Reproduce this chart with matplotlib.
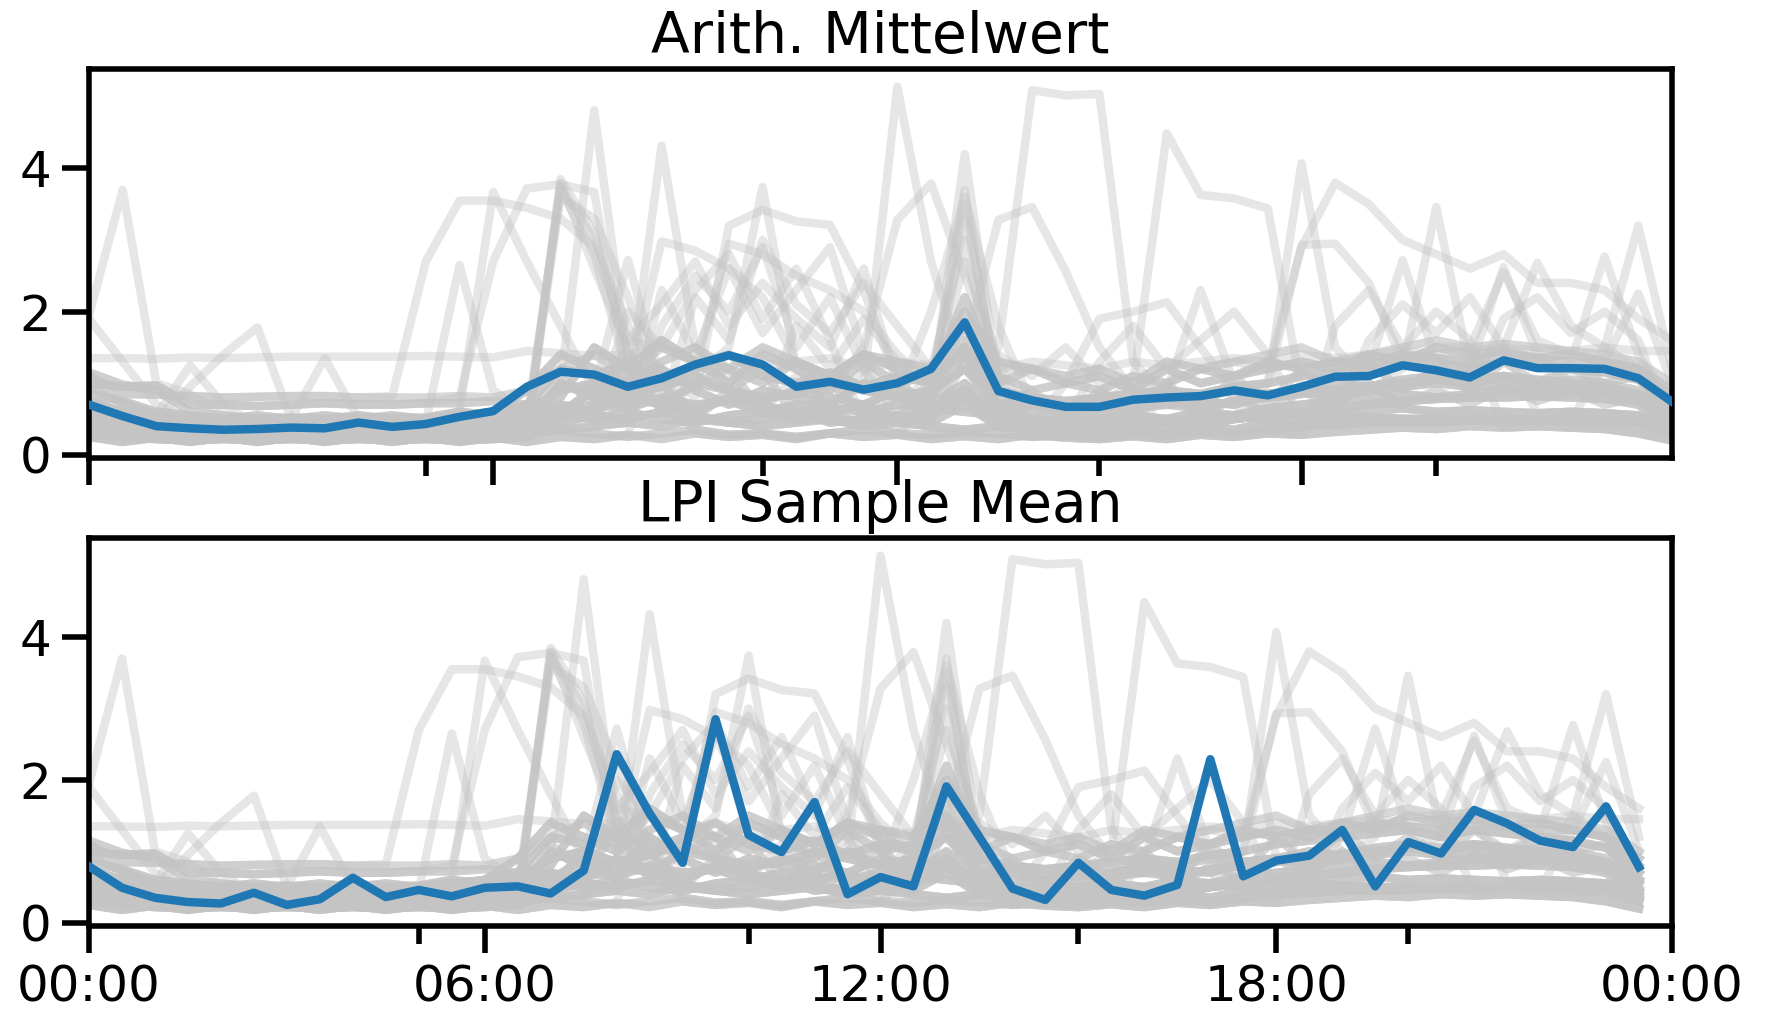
import matplotlib
matplotlib.use("Agg")
import matplotlib.pyplot as plt

# ---------------- data ----------------
hours = [i * 0.5 for i in range(48)]          # 00:00 ... 23:30, half-hourly

titles = ["Arith. Mittelwert", "LPI Sample Mean"]
xtick_labels = ["00:00", "06:00", "12:00", "18:00", "00:00"]

mean_arith = [0.70, 0.54, 0.40, 0.37, 0.35, 0.36, 0.38, 0.37,
              0.45, 0.39, 0.43, 0.53, 0.61, 0.95, 1.16, 1.12,
              0.95, 1.07, 1.26, 1.39, 1.26, 0.95, 1.02, 0.91,
              1.00, 1.20, 1.85, 0.89, 0.76, 0.67, 0.67, 0.77,
              0.80, 0.82, 0.90, 0.83, 0.95, 1.09, 1.10, 1.25,
              1.18, 1.08, 1.32, 1.21, 1.21, 1.20, 1.07, 0.74]

mean_lpi = [0.79, 0.49, 0.35, 0.29, 0.27, 0.42, 0.25, 0.33,
            0.63, 0.36, 0.46, 0.37, 0.49, 0.51, 0.41, 0.73,
            2.36, 1.53, 0.84, 2.85, 1.23, 0.99, 1.69, 0.40,
            0.64, 0.51, 1.91, 1.20, 0.48, 0.32, 0.84, 0.46,
            0.38, 0.53, 2.29, 0.65, 0.87, 0.94, 1.30, 0.51,
            1.13, 0.97, 1.58, 1.39, 1.15, 1.06, 1.63, 0.78]

# individual daily profiles (grey): a set of typical "band" days ...
band = {
    "b01": [0.25, 0.18, 0.24, 0.18, 0.24, 0.18, 0.24, 0.18,
            0.24, 0.18, 0.24, 0.18, 0.24, 0.18, 0.25, 0.22,
            0.28, 0.22, 0.30, 0.25, 0.28, 0.22, 0.30, 0.25,
            0.28, 0.22, 0.26, 0.22, 0.28, 0.24, 0.22, 0.26,
            0.22, 0.28, 0.25, 0.30, 0.28, 0.32, 0.35, 0.38,
            0.36, 0.40, 0.38, 0.40, 0.38, 0.36, 0.30, 0.20],
    "b02": [0.35, 0.30, 0.27, 0.25, 0.26, 0.25, 0.27, 0.25,
            0.26, 0.25, 0.27, 0.26, 0.28, 0.30, 0.35, 0.40,
            0.45, 0.40, 0.50, 0.45, 0.40, 0.45, 0.50, 0.40,
            0.45, 0.40, 0.35, 0.40, 0.35, 0.30, 0.35, 0.30,
            0.35, 0.40, 0.35, 0.45, 0.40, 0.45, 0.48, 0.50,
            0.48, 0.50, 0.50, 0.48, 0.50, 0.48, 0.45, 0.30],
    "b03": [0.50, 0.42, 0.36, 0.32, 0.30, 0.32, 0.30, 0.33,
            0.30, 0.32, 0.30, 0.35, 0.40, 0.50, 0.60, 0.70,
            0.65, 0.80, 0.70, 0.75, 0.60, 0.70, 0.65, 0.60,
            0.70, 0.65, 0.60, 0.55, 0.50, 0.45, 0.50, 0.55,
            0.50, 0.60, 0.55, 0.65, 0.70, 0.75, 0.80, 0.85,
            0.80, 0.85, 0.90, 0.85, 0.90, 0.85, 0.75, 0.45],
    "b04": [0.65, 0.52, 0.42, 0.40, 0.38, 0.40, 0.37, 0.40,
            0.38, 0.40, 0.42, 0.45, 0.50, 0.60, 0.90, 1.00,
            0.85, 0.95, 1.10, 0.90, 0.80, 0.85, 1.00, 0.90,
            0.80, 0.90, 1.20, 0.70, 0.60, 0.55, 0.60, 0.65,
            0.70, 0.65, 0.75, 0.80, 0.85, 0.90, 0.95, 1.00,
            1.05, 1.00, 1.10, 1.05, 1.00, 0.95, 0.85, 0.60],
    "b05": [0.95, 0.72, 0.55, 0.50, 0.48, 0.45, 0.47, 0.45,
            0.48, 0.45, 0.50, 0.55, 0.60, 0.70, 1.20, 1.10,
            1.30, 1.00, 1.20, 1.40, 1.10, 1.00, 1.15, 0.95,
            1.10, 1.00, 1.50, 0.90, 0.80, 0.75, 0.80, 0.85,
            0.90, 0.85, 0.95, 1.00, 1.10, 1.15, 1.20, 1.25,
            1.30, 1.20, 1.30, 1.25, 1.20, 1.15, 1.05, 0.70],
    "b06": [1.15, 0.98, 0.90, 0.60, 0.55, 0.50, 0.52, 0.50,
            0.55, 0.50, 0.52, 0.60, 0.55, 0.70, 0.80, 1.50,
            1.20, 1.60, 1.30, 1.00, 1.40, 1.20, 0.90, 1.30,
            1.00, 1.10, 1.80, 1.00, 1.20, 1.00, 1.10, 0.90,
            1.20, 1.00, 1.10, 1.20, 1.30, 1.20, 1.40, 1.30,
            1.50, 1.40, 1.45, 1.35, 1.40, 1.30, 1.20, 0.90],
    "b07": [0.75, 0.60, 0.50, 0.45, 0.42, 0.40, 0.42, 0.40,
            0.43, 0.40, 0.42, 0.45, 0.50, 0.55, 0.70, 0.60,
            0.90, 0.70, 0.60, 0.80, 0.70, 0.55, 0.60, 0.70,
            0.50, 0.60, 0.90, 0.50, 0.45, 0.40, 0.45, 0.50,
            0.45, 0.50, 0.55, 0.50, 0.60, 0.55, 0.60, 0.65,
            0.60, 0.62, 0.60, 0.58, 0.60, 0.58, 0.55, 0.40],
    "b08": [0.40, 0.32, 0.28, 0.30, 0.28, 0.30, 0.28, 0.30,
            0.28, 0.30, 0.28, 0.30, 0.32, 0.30, 0.35, 0.30,
            0.25, 0.30, 0.35, 0.28, 0.30, 0.25, 0.30, 0.35,
            0.30, 0.28, 0.32, 0.30, 0.25, 0.28, 0.25, 0.30,
            0.28, 0.32, 0.30, 0.35, 0.40, 0.42, 0.45, 0.45,
            0.46, 0.48, 0.47, 0.48, 0.47, 0.46, 0.42, 0.30],
    "b09": [0.55, 0.45, 0.40, 0.38, 0.35, 0.38, 0.36, 0.38,
            0.36, 0.38, 0.35, 0.38, 0.40, 0.45, 1.00, 0.80,
            0.70, 1.20, 0.90, 0.70, 0.90, 0.80, 0.70, 1.00,
            0.80, 0.70, 1.00, 0.60, 0.70, 0.60, 0.65, 0.70,
            0.80, 0.75, 0.70, 0.85, 0.90, 0.80, 0.90, 0.95,
            1.00, 0.95, 1.00, 0.95, 0.90, 0.85, 0.80, 0.55],
    "b10": [0.85, 0.75, 0.60, 0.55, 0.50, 0.55, 0.50, 0.55,
            0.50, 0.55, 0.50, 0.50, 0.60, 0.90, 1.40, 1.20,
            1.00, 1.30, 1.50, 1.20, 1.00, 1.30, 1.10, 1.40,
            1.20, 1.00, 2.20, 1.10, 0.90, 1.00, 0.90, 1.10,
            1.00, 1.20, 1.10, 1.30, 1.20, 1.30, 1.25, 1.40,
            1.35, 1.30, 1.40, 1.35, 1.30, 1.30, 1.20, 0.80],
    "b11": [1.10, 0.85, 0.84, 0.82, 0.80, 0.81, 0.82, 0.82,
            0.80, 0.80, 0.80, 0.82, 0.80, 0.90, 1.20, 1.40,
            1.10, 1.50, 1.30, 1.20, 1.50, 1.30, 1.10, 1.40,
            1.30, 1.20, 2.00, 1.30, 1.20, 1.10, 1.20, 1.00,
            1.30, 1.20, 1.30, 1.40, 1.50, 1.30, 1.40, 1.50,
            1.60, 1.50, 1.55, 1.50, 1.45, 1.40, 1.30, 1.00],
    "b12": [1.00, 0.95, 0.97, 0.70, 0.70, 0.68, 0.70, 0.72,
            0.70, 0.70, 0.72, 0.72, 0.75, 0.70, 0.60, 0.90,
            0.80, 0.70, 1.00, 0.90, 0.75, 0.90, 0.80, 0.70,
            0.90, 0.80, 1.40, 0.70, 0.80, 0.65, 0.70, 0.75,
            0.70, 0.80, 0.90, 0.85, 0.90, 1.00, 0.95, 1.05,
            1.10, 1.05, 1.10, 1.00, 1.05, 1.00, 0.90, 0.60],
    "b13": [0.30, 0.25, 0.22, 0.20, 0.22, 0.20, 0.22, 0.20,
            0.22, 0.20, 0.22, 0.20, 0.22, 0.25, 0.45, 0.55,
            0.50, 0.60, 0.55, 0.45, 0.50, 0.60, 0.45, 0.50,
            0.55, 0.45, 0.70, 0.40, 0.35, 0.40, 0.35, 0.40,
            0.45, 0.40, 0.50, 0.55, 0.60, 0.65, 0.70, 0.75,
            0.78, 0.80, 0.80, 0.82, 0.80, 0.78, 0.70, 0.35],
    "b14": [0.45, 0.38, 0.33, 0.30, 0.32, 0.30, 0.32, 0.30,
            0.32, 0.30, 0.32, 0.34, 0.36, 0.40, 0.55, 0.50,
            0.60, 0.50, 0.45, 0.55, 0.60, 0.50, 0.55, 0.45,
            0.50, 0.55, 0.80, 0.45, 0.40, 0.45, 0.50, 0.45,
            0.50, 0.45, 0.50, 0.55, 0.50, 0.55, 0.52, 0.50,
            0.50, 0.48, 0.50, 0.48, 0.50, 0.48, 0.45, 0.35],
    "b15": [1.35, 1.35, 1.34, 1.36, 1.35, 1.36, 1.37, 1.37,
            1.37, 1.37, 1.38, 1.37, 1.36, 1.45, 1.42, 1.38,
            1.40, 1.50, 1.30, 1.40, 1.25, 1.30, 1.35, 1.20,
            1.30, 1.25, 1.50, 1.20, 1.30, 1.25, 1.20, 1.30,
            1.25, 1.30, 1.35, 1.30, 1.40, 1.35, 1.40, 1.45,
            1.40, 1.45, 1.50, 1.45, 1.45, 1.50, 1.45, 1.45],
    "b16": [0.60, 0.50, 0.45, 0.42, 0.40, 0.42, 0.40, 0.42,
            0.40, 0.42, 0.40, 0.45, 0.50, 0.55, 1.10, 0.70,
            1.30, 0.60, 1.00, 1.20, 0.60, 1.10, 0.70, 1.20,
            0.60, 1.00, 1.60, 0.60, 0.90, 0.50, 0.90, 0.60,
            1.00, 0.60, 1.10, 0.70, 1.20, 0.80, 1.30, 0.90,
            1.20, 0.90, 1.30, 1.00, 1.20, 1.00, 1.10, 0.50],
    "b17": [0.40, 0.35, 0.30, 0.28, 0.30, 0.28, 0.30, 0.28,
            0.30, 0.28, 0.30, 0.32, 0.35, 0.40, 0.50, 1.00,
            0.60, 1.10, 0.50, 0.90, 1.20, 0.50, 1.00, 0.60,
            1.10, 0.50, 1.30, 0.50, 0.80, 0.40, 0.70, 0.50,
            0.90, 0.50, 0.80, 0.60, 0.90, 0.70, 1.00, 0.70,
            0.90, 0.70, 0.95, 0.75, 0.90, 0.70, 0.80, 0.40],
}

# ... and days with peaks: (typical day they resemble, {half-hour index: value})
peak_days = [
    ("b06", {0: 1.95, 1: 3.70, 2: 1.00, 3: 0.85}),
    ("b05", {0: 1.90, 1: 1.30, 2: 0.70}),
    ("b07", {2: 0.55, 3: 1.25, 4: 0.70}),
    ("b03", {2: 0.50, 3: 0.95, 4: 1.40, 5: 1.78, 6: 0.50}),
    ("b02", {6: 0.50, 7: 1.35, 8: 0.50}),
    ("b11", {9: 0.82, 10: 2.70, 11: 3.55, 12: 3.55, 13: 3.45, 14: 3.30, 15: 2.90, 16: 1.60}),
    ("b12", {11: 0.80, 12: 2.70, 13: 3.72, 14: 3.78, 15: 3.67, 16: 1.00}),
    ("b04", {10: 0.45, 11: 2.65, 12: 0.90}),
    ("b05", {11: 0.60, 12: 3.67, 13: 2.70, 14: 1.80, 15: 0.90}),
    ("b09", {14: 1.00, 15: 4.81, 16: 1.30}),
    ("b01", {13: 0.30, 14: 3.85, 15: 3.10, 16: 1.40, 17: 0.90}),
    ("b02", {13: 0.40, 14: 3.75, 15: 3.00, 16: 1.80, 17: 1.00}),
    ("b03", {13: 0.50, 14: 3.70, 15: 2.80, 16: 1.10}),
    ("b08", {13: 0.35, 14: 3.60, 15: 3.30, 16: 2.20, 17: 1.00}),
    ("b13", {13: 0.30, 14: 3.80, 15: 2.60, 16: 1.50}),
    ("b14", {15: 0.90, 16: 2.72, 17: 1.00}),
    ("b07", {16: 0.80, 17: 4.32, 18: 1.50, 19: 1.00}),
    ("b09", {18: 0.80, 19: 3.20, 20: 3.42, 21: 3.26, 22: 3.21, 23: 2.30, 24: 1.00}),
    ("b04", {19: 1.50, 20: 3.74, 21: 1.20}),
    ("b10", {16: 1.00, 17: 2.98, 18: 2.85, 19: 2.60, 20: 2.20, 21: 1.30}),
    ("b05", {18: 1.20, 19: 2.95, 20: 2.80, 21: 2.50, 22: 2.30, 23: 2.00, 24: 1.40}),
    ("b03", {23: 1.00, 24: 5.14, 25: 2.70, 26: 1.20, 27: 0.80}),
    ("b06", {23: 1.50, 24: 3.28, 25: 3.79, 26: 2.50, 27: 1.20}),
    ("b01", {25: 0.80, 26: 4.20, 27: 1.00}),
    ("b02", {25: 0.90, 26: 3.70, 27: 0.80}),
    ("b07", {25: 1.00, 26: 3.50, 27: 0.90}),
    ("b08", {25: 0.70, 26: 3.30, 27: 1.10}),
    ("b13", {25: 1.20, 26: 3.00, 27: 0.70}),
    ("b14", {25: 0.90, 26: 2.70, 27: 1.30}),
    ("b09", {25: 2.00, 26: 3.60, 27: 1.80}),
    ("b04", {26: 0.80, 27: 1.50, 28: 5.09, 29: 5.02, 30: 5.04, 31: 1.30, 32: 0.80}),
    ("b10", {26: 1.50, 27: 3.28, 28: 3.46, 29: 2.56, 30: 1.50, 31: 0.90}),
    ("b12", {31: 1.00, 32: 4.49, 33: 3.63, 34: 3.58, 35: 3.44, 36: 0.90}),
    ("b07", {35: 1.00, 36: 4.07, 37: 1.50, 38: 1.00}),
    ("b11", {35: 1.20, 36: 2.90, 37: 3.80, 38: 3.50, 39: 3.00, 40: 2.80, 41: 2.60,
             42: 2.80, 43: 2.40, 44: 2.40, 45: 2.30, 46: 1.90, 47: 1.60}),
    ("b05", {35: 1.00, 36: 2.93, 37: 2.95, 38: 2.40, 39: 1.30}),
    ("b09", {39: 1.20, 40: 3.46, 41: 1.20}),
    ("b03", {38: 1.20, 39: 2.72, 40: 1.30}),
    ("b04", {41: 1.20, 42: 2.62, 43: 1.40}),
    ("b06", {41: 1.50, 42: 2.55, 43: 1.60}),
    ("b10", {42: 1.50, 43: 2.68, 44: 1.80, 45: 1.50}),
    ("b12", {44: 1.30, 45: 2.77, 46: 1.40}),
    ("b13", {45: 1.50, 46: 3.20, 47: 1.20}),
    ("b02", {32: 0.90, 33: 2.30, 34: 1.00}),
    ("b08", {45: 1.30, 46: 2.25, 47: 1.00}),
    ("b14", {29: 1.00, 30: 1.90, 31: 2.00, 32: 2.13, 33: 1.50, 34: 0.90}),
    ("b01", {17: 1.80, 18: 2.50, 19: 2.00, 20: 2.90, 21: 1.50, 22: 2.20, 23: 1.20}),
    ("b02", {17: 2.30, 18: 1.40, 19: 2.60, 20: 1.70, 21: 2.30, 22: 2.90, 23: 1.40}),
    ("b08", {16: 1.60, 17: 2.10, 18: 2.70, 19: 1.80, 20: 2.40, 21: 1.90, 22: 1.50, 23: 2.60, 24: 1.00}),
    ("b13", {18: 2.20, 19: 1.60, 20: 3.00, 21: 2.10, 22: 1.70, 23: 2.40, 24: 1.80, 25: 1.20}),
    ("b14", {16: 2.00, 17: 1.50, 18: 2.30, 19: 2.80, 20: 1.90, 21: 2.60, 22: 1.60}),
    ("b01", {37: 1.80, 38: 2.30, 39: 1.50, 40: 2.00, 41: 1.60}),
    ("b07", {38: 1.60, 39: 2.10, 40: 1.70, 41: 2.20, 42: 1.50}),
    ("b13", {42: 1.90, 43: 2.20, 44: 1.70, 45: 2.00, 46: 1.60}),
    ("b14", {30: 1.30, 31: 1.80, 32: 1.20, 33: 1.60, 34: 2.00, 35: 1.40}),
    ("b16", {21: 1.80, 22: 1.20, 23: 1.90, 24: 1.30}),
    ("b17", {27: 1.40, 28: 1.10, 29: 1.50, 30: 1.00}),
]

# ---------------- build series ----------------
grey_days = [list(v) for v in band.values()]
for base, peaks in peak_days:
    s = list(band[base])
    for k, v in peaks.items():
        s[k] = v
    grey_days.append(s)

# ---------------- figure ----------------
plt.rcParams["font.family"] = ["DejaVu Sans"]
DPI = 160
fig = plt.figure(figsize=(1772 / DPI, 1014 / DPI), dpi=DPI)
left = 89 / 1772
width = (1672 - 89) / 1772
ax1 = fig.add_axes([left, 0.5483, width, 0.3838])
ax2 = fig.add_axes([left, 0.0868, width, 0.3828])

for ax, mean, title, xmax in [(ax1, mean_arith, titles[0], 23.5),
                              (ax2, mean_lpi, titles[1], 24.0)]:
    for s in grey_days:
        ax.plot(hours, s, color="#c4c4c4", alpha=0.42, lw=3.8, zorder=1)
    ax.plot(hours, mean, color="#1f77b4", lw=3.8, zorder=3)
    ax.set_xlim(0, xmax)
    ax.set_ylim(-0.045, 5.39)
    ax.set_yticks([0, 2, 4])
    ax.set_xticks([5, 10, 15, 20], minor=True)
    ax.tick_params(axis="both", which="major", length=12, width=2.5,
                   labelsize=22.5, pad=5, color="black")
    ax.tick_params(axis="x", which="minor", length=8, width=2.5)
    for sp in ax.spines.values():
        sp.set_linewidth(2.5)
        sp.set_color("black")
    ax.set_title(title, fontsize=25.5, pad=7)

ax1.set_xticks([0, 6, 12, 18])
ax1.set_xticklabels([])
ax2.set_xticks([0, 6, 12, 18, 24])
ax2.set_xticklabels(xtick_labels)

fig.savefig("out.png", dpi=DPI)
